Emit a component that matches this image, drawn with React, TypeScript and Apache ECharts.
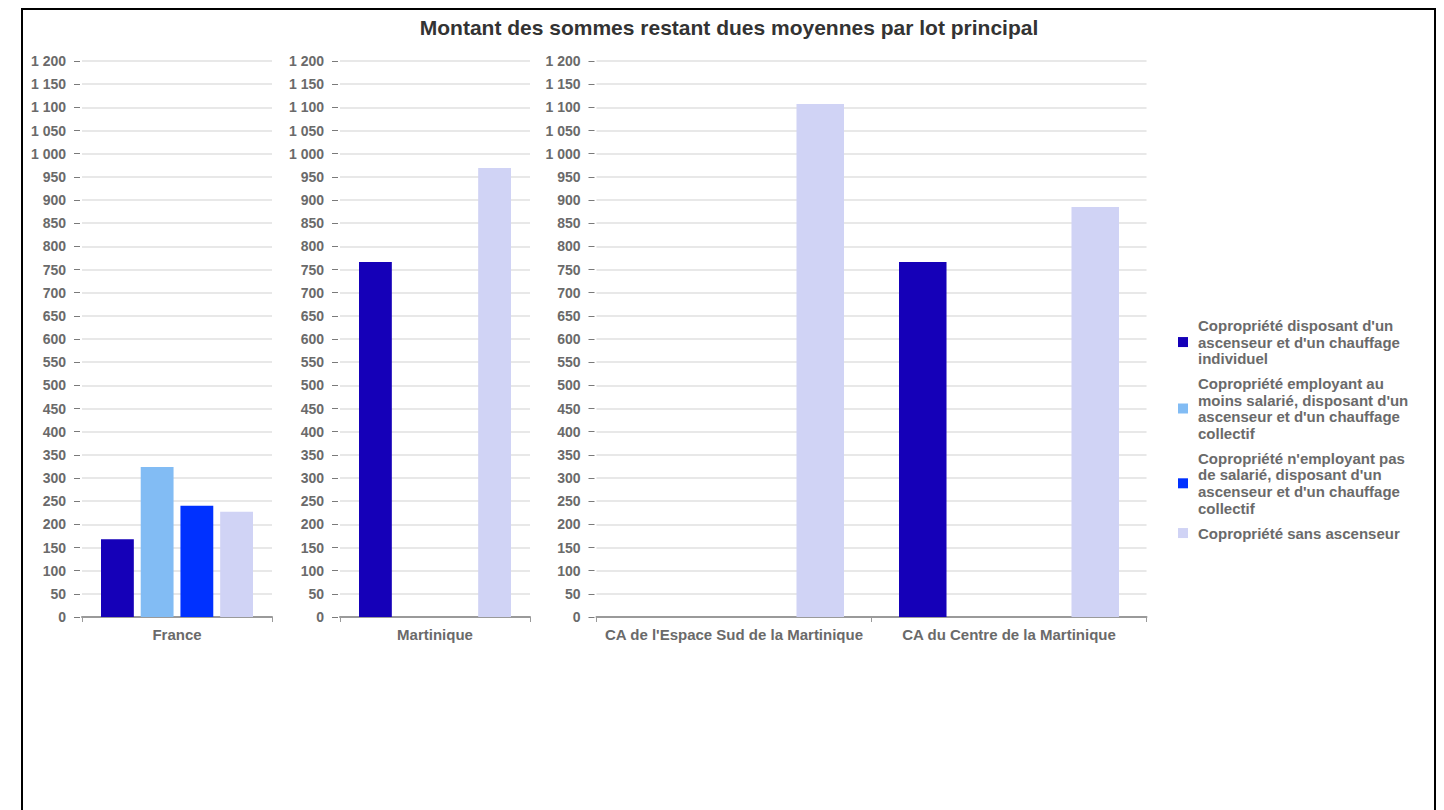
import React, { useEffect, useRef } from "react";
import * as echarts from "echarts";

const title = "Montant des sommes restant dues moyennes par lot principal";
const catFrance = ["France"];
const catMartinique = ["Martinique"];
const catCA = ["CA de l'Espace Sud de la Martinique", "CA du Centre de la Martinique"];

const seriesNames = [
  "Copropriété disposant d'un ascenseur et d'un chauffage individuel",
  "Copropriété employant au moins salarié, disposant d'un ascenseur et d'un chauffage collectif",
  "Copropriété n'employant pas de salarié, disposant d'un ascenseur et d'un chauffage collectif",
  "Copropriété sans ascenseur",
];
const legendLabels = [
  "Copropriété disposant d'un\nascenseur et d'un chauffage\nindividuel",
  "Copropriété employant au\nmoins salarié, disposant d'un\nascenseur et d'un chauffage\ncollectif",
  "Copropriété n'employant pas\nde salarié, disposant d'un\nascenseur et d'un chauffage\ncollectif",
  "Copropriété sans ascenseur",
];
const colors = ["#1500B8", "#82BCF4", "#0031FF", "#D0D3F5"];

// values per series: [France], [Martinique], [CA Sud, CA Centre]
const franceValues = [168, 324, 240, 227];
const martiniqueValues = [766, null, null, 969];
const caSudValues = [null, null, null, 1107];
const caCentreValues = [766, null, null, 885];

const yMin = 0;
const yMax = 1200;
const yInterval = 50;

const FONT = "'Liberation Sans', Arial, sans-serif";

export default function App() {
  const ref = useRef<HTMLDivElement>(null);
  useEffect(() => {
    document.body.style.margin = "0";
    document.body.style.overflow = "hidden";
    if (!ref.current) return;
    const chart = echarts.init(ref.current, null, { renderer: "svg" });
    const grids = [
      { left: 82, top: 61, width: 190, height: 556 },
      { left: 340, top: 61, width: 190, height: 556 },
      { left: 596.5, top: 61, width: 550, height: 556 },
    ];
    const cats = [catFrance, catMartinique, catCA];
    const xAxis = cats.map((c, i) => ({
      type: "category",
      gridIndex: i,
      data: c,
      axisLine: { show: true, lineStyle: { color: "#9a9a9a", width: 2 } },
      axisTick: { show: true, length: 5, lineStyle: { color: "#9a9a9a", width: 1 } },
      axisLabel: {
        interval: 0,
        color: "#6a6a6a",
        fontWeight: "bold",
        fontSize: 15,
        fontFamily: FONT,
        margin: 10,
      },
    }));
    const yAxis = cats.map((_, i) => ({
      type: "value",
      gridIndex: i,
      min: yMin,
      max: yMax,
      interval: yInterval,
      offset: 2,
      axisLine: { show: false },
      axisTick: { show: true, length: 6, lineStyle: { color: "#7a7a7a", width: 1 } },
      splitLine: { show: true, lineStyle: { color: "#e8e8e8", width: 2 } },
      axisLabel: {
        color: "#6a6a6a",
        fontWeight: "bold",
        fontSize: 14,
        fontFamily: FONT,
        margin: 14,
        formatter: (v: number) => String(v).replace(/\B(?=(\d{3})+(?!\d))/g, " "),
      },
    }));
    const dataPerGrid = [
      seriesNames.map((_, s) => [franceValues[s]]),
      seriesNames.map((_, s) => [martiniqueValues[s]]),
      seriesNames.map((_, s) => [caSudValues[s], caCentreValues[s]]),
    ];
    const series: any[] = [];
    dataPerGrid.forEach((gridData, g) => {
      gridData.forEach((vals, s) => {
        series.push({
          type: "bar",
          name: seriesNames[s],
          xAxisIndex: g,
          yAxisIndex: g,
          data: vals,
          barCategoryGap: "20%",
          barGap: "21%",
          itemStyle: { color: colors[s] },
        });
      });
    });
    chart.setOption({
      animation: false,
      color: colors,
      title: {
        text: title,
        left: 729,
        textAlign: "center",
        top: 17,
        padding: 0,
        textStyle: { color: "#333333", fontSize: 21, fontWeight: "bold", fontFamily: FONT },
      },
      legend: {
        orient: "vertical",
        left: 1178,
        top: 317,
        padding: 0,
        itemWidth: 10,
        itemHeight: 10,
        itemGap: 8,
        icon: "rect",
        data: seriesNames,
        formatter: (name: string) => legendLabels[seriesNames.indexOf(name)],
        textStyle: {
          color: "#6a6a6a",
          fontWeight: "bold",
          fontSize: 15,
          lineHeight: 16.7,
          fontFamily: FONT,
          padding: [0, 0, 0, 5],
        },
      },
      grid: grids,
      xAxis,
      yAxis,
      series,
    });
    return () => chart.dispose();
  }, []);
  return (
    <div>
      <div
        style={{
          position: "fixed",
          left: 21,
          top: 8,
          width: 1415,
          height: 802,
          border: "2px solid #000",
          borderBottom: "none",
          boxSizing: "border-box",
          background: "#fff",
        }}
      />
      <div
        ref={ref}
        style={{ position: "fixed", left: 0, top: 0, width: 1444, height: 810 }}
      />
    </div>
  );
}
